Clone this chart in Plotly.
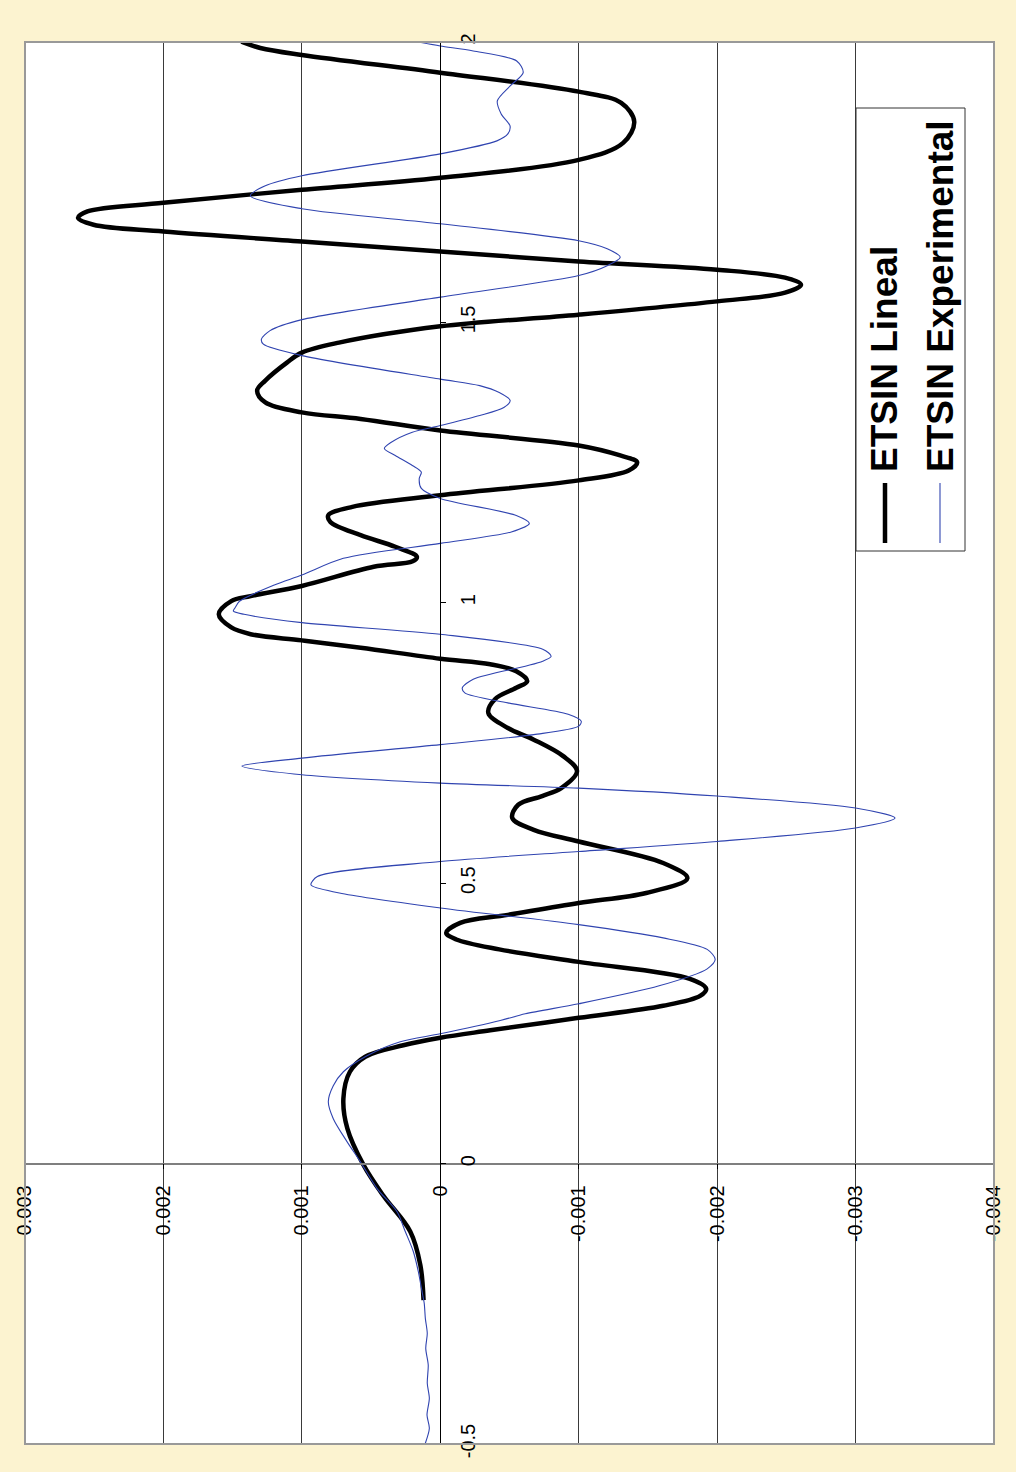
import plotly.graph_objects as go

# Time axis (s) and response for the linear model
t_lineal = [-0.2435, -0.1811, -0.1211, -0.0570, -0.0018, 0.0623, 0.1158, 0.1638, 0.1906, 0.2110,
            0.2244, 0.2376, 0.2600, 0.2814, 0.2992, 0.3117, 0.3295, 0.3597, 0.3820, 0.3996,
            0.4114, 0.4292, 0.4435, 0.4648, 0.4826, 0.5090, 0.5361, 0.5744, 0.5952, 0.6162,
            0.6399, 0.6554, 0.6696, 0.6999, 0.7266, 0.7560, 0.7768, 0.8037, 0.8281, 0.8484,
            0.8602, 0.8780, 0.8905, 0.9003, 0.9199, 0.9330, 0.9440, 0.9560, 0.9795, 1.0030,
            1.0120, 1.0300, 1.0643, 1.0739, 1.0821, 1.0999, 1.1206, 1.1442, 1.1560, 1.1710,
            1.1916, 1.2183, 1.2360, 1.2507, 1.2627, 1.2805, 1.3072, 1.3279, 1.3396, 1.3574,
            1.3784, 1.3963, 1.4283, 1.4461, 1.4639, 1.4930, 1.5138, 1.5375, 1.5530, 1.5672,
            1.5797, 1.5940, 1.6087, 1.6265, 1.6443, 1.6621, 1.6741, 1.6865, 1.6978, 1.7133,
            1.7364, 1.7578, 1.7898, 1.8201, 1.8581, 1.8914, 1.9115, 1.9453, 1.9768, 1.9893,
            2.0005]
v_lineal = [0.000121, 0.000144, 0.000217, 0.000412, 0.000556, 0.000671, 0.000700, 0.000653, 0.000542, 0.000267,
            0.0, -0.000361, -0.001, -0.001610, -0.001877, -0.001921, -0.001803, -0.001, -0.000426, -0.000116,
            -0.000043, -0.000144, -0.000488, -0.001, -0.001487, -0.001785, -0.001610, -0.001, -0.000675, -0.000520,
            -0.000563, -0.000736, -0.000874, -0.000988, -0.000888, -0.000675, -0.000488, -0.000347, -0.000395, -0.000549,
            -0.000628, -0.000549, -0.000361, 0.0, 0.000575, 0.001, 0.001370, 0.001510, 0.001600, 0.001510,
            0.001370, 0.001, 0.000481, 0.000200, 0.000169, 0.000325, 0.000575, 0.000794, 0.000809, 0.000635,
            0.0, -0.001, -0.001361, -0.001422, -0.001300, -0.001, 0.0, 0.000575, 0.001, 0.001264,
            0.001323, 0.001264, 0.001108, 0.001, 0.000732, 0.0, -0.001, -0.002, -0.002491, -0.002606,
            -0.002491, -0.002, -0.001, 0.0, 0.001, 0.002, 0.002505, 0.002617, 0.002549, 0.002,
            0.001, 0.0, -0.001, -0.001321, -0.001401, -0.001307, -0.001, 0.0, 0.001, 0.001300,
            0.001437]

# Measured response
t_exp = [-0.4987, -0.4720, -0.4483, -0.4185, -0.3918, -0.3592, -0.3295, -0.3028, -0.2760, -0.2493,
         -0.2280, -0.1923, -0.1567, -0.1211, -0.0855, -0.0445, 0.0036, 0.0392, 0.0801, 0.1104,
         0.1389, 0.1638, 0.1923, 0.2173, 0.2315, 0.2552, 0.2671, 0.2850, 0.3170, 0.3473,
         0.3642, 0.3820, 0.4025, 0.4262, 0.4559, 0.4826, 0.4969, 0.5118, 0.5386, 0.5565,
         0.5744, 0.5984, 0.6162, 0.6340, 0.6554, 0.6696, 0.6785, 0.6935, 0.7088, 0.7231,
         0.7471, 0.7649, 0.7800, 0.7890, 0.8014, 0.8215, 0.8395, 0.8484, 0.8638, 0.8869,
         0.8958, 0.9047, 0.9172, 0.9439, 0.9646, 0.9795, 0.9854, 0.9920, 1.0027, 1.0317,
         1.0495, 1.0793, 1.1060, 1.1264, 1.1416, 1.1558, 1.1861, 1.2039, 1.2217, 1.2331,
         1.2449, 1.2627, 1.2752, 1.2858, 1.3042, 1.3161, 1.3339, 1.3482, 1.3606, 1.3749,
         1.3873, 1.3989, 1.4408, 1.4611, 1.4700, 1.4853, 1.5049, 1.5450, 1.5836, 1.6011,
         1.6162, 1.6313, 1.6456, 1.6759, 1.7026, 1.7257, 1.7435, 1.7614, 1.8005, 1.8237,
         1.8361, 1.8504, 1.8718, 1.8949, 1.9216, 1.9455, 1.9662, 1.9840, 1.9929, 2.0000]
v_exp = [0.000108, 0.000079, 0.000096, 0.000079, 0.000094, 0.000087, 0.000105, 0.000094, 0.000108, 0.000116,
         0.000132, 0.000159, 0.000195, 0.000253, 0.000313, 0.000457, 0.000578, 0.000674, 0.000773, 0.000809,
         0.000773, 0.000700, 0.000529, 0.000289, 0.0, -0.000433, -0.000614, -0.001, -0.001581, -0.001928,
         -0.001986, -0.001928, -0.001610, -0.001, 0.0, 0.000729, 0.000934, 0.000888, 0.0, -0.001,
         -0.002, -0.003, -0.003285, -0.003, -0.002, -0.001, 0.0, 0.001, 0.001434, 0.001,
         0.0, -0.000675, -0.001, -0.001018, -0.000924, -0.000488, -0.000177, -0.000159, -0.000238, -0.000614,
         -0.000740, -0.000801, -0.000740, 0.0, 0.001, 0.001418, 0.001495, 0.001480, 0.001451, 0.001199,
         0.001, 0.000700, 0.0, -0.000513, -0.000643, -0.000549, 0.0, 0.000137, 0.000152, 0.000137,
         0.000202, 0.000325, 0.000404, 0.000357, 0.000202, 0.0, -0.000285, -0.000459, -0.000505, -0.000426,
         -0.000285, 0.0, 0.001, 0.001278, 0.001292, 0.001230, 0.001, 0.0, -0.001, -0.001206,
         -0.001300, -0.001206, -0.001, 0.0, 0.001, 0.001372, 0.001264, 0.001, 0.0, -0.000409,
         -0.000488, -0.000504, -0.000440, -0.000412, -0.000505, -0.000599, -0.000552, -0.000238, 0.0, 0.000160]

series_names = ["ETSIN Lineal", "ETSIN Experimental"]
value_ticks = [0.003, 0.002, 0.001, 0, -0.001, -0.002, -0.003, -0.004]
value_labels = ["0.003", "0.002", "0.001", "0", "-0.001", "-0.002", "-0.003", "-0.004"]
time_ticks = [-0.5, 0, 0.5, 1, 1.5, 2]
time_labels = ["-0.5", "0", "0.5", "1", "1.5", "2"]

W, H = 1016, 1472
ML, MR, MT, MB = 25, 22, 42, 28
PW, PH = W - ML - MR, H - MT - MB

BLACK = "#000000"
BLUE = "#3044B0"
FONT = "Liberation Sans, Arial, sans-serif"


def px(xp):
    return (xp - ML) / PW


def py(yp):
    return (H - MB - yp) / PH


fig = go.Figure()
fig.add_trace(go.Scatter(x=v_lineal, y=t_lineal, mode="lines", name=series_names[0],
                         line=dict(color=BLACK, width=4.5, shape="spline", smoothing=1.0),
                         showlegend=False, hoverinfo="skip"))
fig.add_trace(go.Scatter(x=v_exp, y=t_exp, mode="lines", name=series_names[1],
                         line=dict(color=BLUE, width=1.1, shape="spline", smoothing=0.8),
                         showlegend=False, hoverinfo="skip"))

t0_pos = (0 - (-0.5)) / 2.5
v0_pos = (0.003 - 0) / 0.007

fig.update_layout(
    width=W, height=H,
    margin=dict(l=ML, r=MR, t=MT, b=MB),
    paper_bgcolor="#FCF3D0",
    plot_bgcolor="#FFFFFF",
    font=dict(family=FONT, color="#000000", size=20),
    xaxis=dict(range=[0.003, -0.004], tickvals=value_ticks, ticktext=value_labels,
               showgrid=True, gridcolor="#3a3a3a", gridwidth=1, zeroline=False,
               showline=True, linecolor="#7f7f7f", linewidth=1.5,
               anchor="free", position=t0_pos, ticks="outside", ticklen=5,
               tickcolor="#000000", tickangle=-90, tickfont=dict(size=20),
               ticklabelstandoff=8),
    yaxis=dict(range=[-0.5, 2], tickvals=time_ticks, ticktext=time_labels,
               showgrid=False, zeroline=False, showline=True, linecolor="#000000",
               linewidth=1, anchor="free", position=v0_pos, side="right",
               ticks="outside", ticklen=5, tickcolor="#000000", tickangle=-90,
               tickfont=dict(size=20), ticklabelstandoff=5),
)

# Plot area frame
fig.add_shape(type="rect", xref="paper", yref="paper", x0=0, x1=1, y0=0, y1=1,
              line=dict(color="#999999", width=2), layer="above")

# Legend box with rotated entries
fig.add_shape(type="rect", xref="paper", yref="paper", x0=px(856), x1=px(965),
              y0=py(551), y1=py(108), line=dict(color="#333333", width=1),
              fillcolor="#FFFFFF", layer="above")
fig.add_shape(type="line", xref="paper", yref="paper", x0=px(885), x1=px(885),
              y0=py(543), y1=py(483), line=dict(color=BLACK, width=4.5), layer="above")
fig.add_shape(type="line", xref="paper", yref="paper", x0=px(940), x1=px(940),
              y0=py(543), y1=py(483), line=dict(color=BLUE, width=1.1), layer="above")
for name, xc in zip(series_names, [885, 941]):
    fig.add_annotation(text=name, xref="paper", yref="paper", x=px(xc), y=py(474),
                       xanchor="center", yanchor="bottom", textangle=-90, showarrow=False,
                       font=dict(family=FONT, size=37, color="#000000", weight="bold"))

fig.write_html("out.html")
